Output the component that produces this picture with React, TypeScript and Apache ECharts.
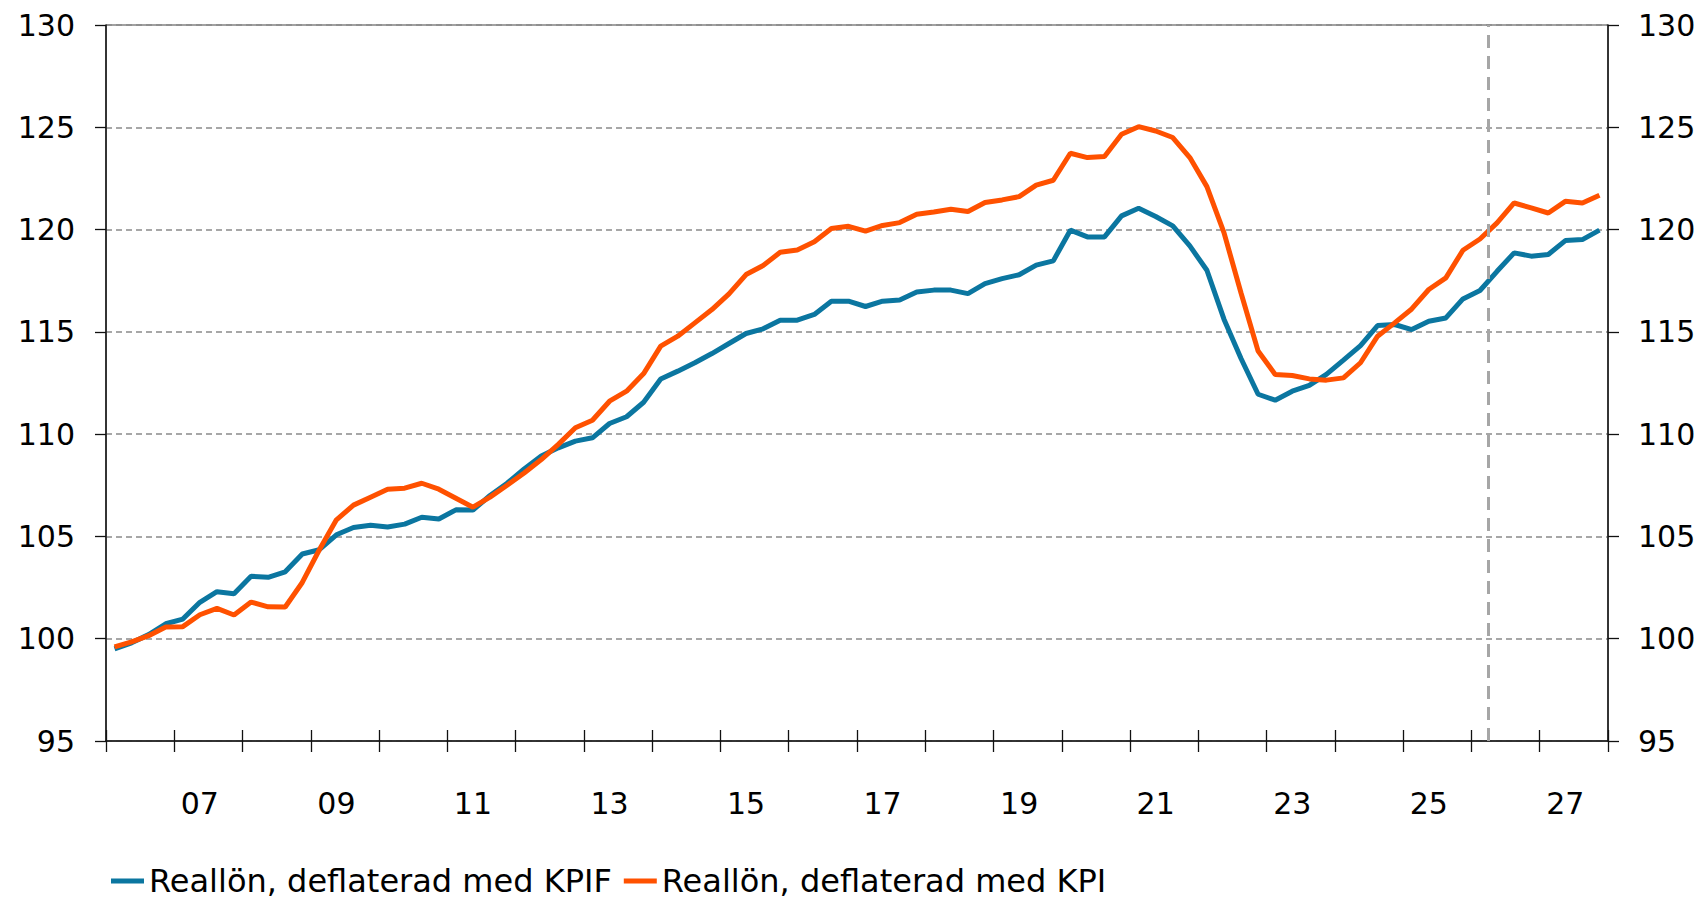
import { useEffect, useRef } from "react";
import * as echarts from "echarts";

const years = [2006, 2007, 2008, 2009, 2010, 2011, 2012, 2013, 2014, 2015, 2016, 2017, 2018, 2019, 2020, 2021, 2022, 2023, 2024, 2025, 2026, 2027];
const quarterNames = ["K1", "K2", "K3", "K4"];
const categories: string[] = years.flatMap((y) => quarterNames.map((q) => `${y}${q}`));

const seriesNames = ["Reallön, deflaterad med KPIF", "Reallön, deflaterad med KPI"];

const kpifValues = [
  99.5, 99.8, 100.2, 100.73, 100.96, 101.78, 102.3, 102.2, 103.05, 103.0,
  103.27, 104.14, 104.35, 105.08, 105.44, 105.55, 105.46, 105.6, 105.94, 105.85,
  106.3, 106.29, 107.0, 107.6, 108.3, 108.93, 109.33, 109.66, 109.82, 110.52,
  110.85, 111.56, 112.7, 113.08, 113.49, 113.94, 114.43, 114.92, 115.15, 115.57,
  115.57, 115.85, 116.5, 116.5, 116.24, 116.5, 116.56, 116.95, 117.04, 117.04,
  116.87, 117.36, 117.6, 117.79, 118.26, 118.47, 119.97, 119.64, 119.64, 120.67,
  121.04, 120.64, 120.18, 119.2, 118.01, 115.62, 113.7, 111.95, 111.66, 112.1,
  112.38, 112.92, 113.62, 114.33, 115.31, 115.36, 115.11, 115.52, 115.68, 116.61,
  117.02, 117.96, 118.86, 118.7, 118.78, 119.46, 119.51, 119.97,
];

const kpiValues = [
  99.6, 99.85, 100.15, 100.57, 100.59, 101.17, 101.48, 101.16, 101.79, 101.56,
  101.55, 102.75, 104.35, 105.81, 106.53, 106.92, 107.31, 107.36, 107.6, 107.31,
  106.87, 106.43, 106.92, 107.5, 108.1, 108.76, 109.5, 110.31, 110.68, 111.61,
  112.1, 112.96, 114.3, 114.79, 115.44, 116.09, 116.86, 117.8, 118.24, 118.89,
  119.0, 119.4, 120.05, 120.16, 119.92, 120.2, 120.34, 120.75, 120.86, 120.99,
  120.88, 121.32, 121.45, 121.61, 122.17, 122.41, 123.73, 123.52, 123.57, 124.66,
  125.03, 124.82, 124.5, 123.52, 122.1, 119.85, 116.9, 114.06, 112.92, 112.87,
  112.7, 112.64, 112.75, 113.49, 114.79, 115.44, 116.12, 117.07, 117.64, 118.99,
  119.54, 120.33, 121.3, 121.06, 120.81, 121.38, 121.3, 121.68,
];

const yMin = 95;
const yMax = 130;
const yStep = 5;
const forecastStart = "2026K2";

const FONT = "'DejaVu Sans', Verdana, sans-serif";
const BLUE = "#0b76a0";
const ORANGE = "#ff5100";
const AXIS = "#111";

export default function App() {
  const ref = useRef<HTMLDivElement>(null);

  useEffect(() => {
    document.body.style.margin = "0";
    if (!ref.current) return;
    const chart = echarts.init(ref.current, undefined, { renderer: "svg" });
    const forecastIndex = categories.indexOf(forecastStart);

    const tickLine = { color: AXIS, width: 1.3 };

    chart.setOption({
      animation: false,
      backgroundColor: "#fff",
      textStyle: { fontFamily: FONT },
      grid: {
        left: 106,
        right: 95,
        top: 25,
        bottom: 163,
        show: true,
        borderColor: "#444",
        borderWidth: 1,
      },
      legend: {
        data: seriesNames,
        left: 106,
        top: 860,
        icon: "rect",
        itemWidth: 33,
        itemHeight: 5,
        itemGap: 12,
        textStyle: { fontSize: 32, lineHeight: 32, color: "#000", fontFamily: FONT },
      },
      xAxis: [
        {
          type: "category",
          data: categories,
          boundaryGap: true,
          position: "bottom",
          axisLine: { show: true, lineStyle: { color: AXIS, width: 1.5 } },
          axisTick: { show: true, interval: 3, length: 11, lineStyle: tickLine },
          axisLabel: {
            interval: (i: number) => i % 8 === 5,
            formatter: (v: string) => v.slice(2, 4),
            fontSize: 30,
            color: "#000",
            fontFamily: FONT,
            margin: 62,
            verticalAlign: "middle",
          },
          splitLine: { show: false },
        },
        {
          type: "category",
          data: categories,
          boundaryGap: true,
          position: "bottom",
          axisLine: { show: false },
          axisTick: { show: true, inside: true, interval: 3, length: 11, lineStyle: tickLine },
          axisLabel: { show: false },
          splitLine: { show: false },
        },
        {
          type: "value",
          min: 0,
          max: categories.length,
          show: false,
        },
      ],
      yAxis: [
        {
          type: "value",
          min: yMin,
          max: yMax,
          interval: yStep,
          position: "left",
          axisLine: { show: true, lineStyle: { color: AXIS, width: 1.5 } },
          axisTick: { show: true, length: 11, lineStyle: tickLine },
          axisLabel: { fontSize: 30, color: "#000", fontFamily: FONT, margin: 31 },
          splitLine: { show: true, lineStyle: { type: [6, 4], color: "#8a8a8a", width: 1.5 } },
        },
        {
          type: "value",
          min: yMin,
          max: yMax,
          interval: yStep,
          position: "right",
          axisLine: { show: true, lineStyle: { color: AXIS, width: 1.5 } },
          axisTick: { show: true, length: 11, lineStyle: tickLine },
          axisLabel: { fontSize: 30, color: "#000", fontFamily: FONT, margin: 30 },
          splitLine: { show: false },
        },
      ],
      series: [
        {
          name: seriesNames[0],
          type: "line",
          xAxisIndex: 0,
          yAxisIndex: 0,
          data: kpifValues,
          symbol: "none",
          lineStyle: { color: BLUE, width: 5 },
          itemStyle: { color: BLUE },
        },
        {
          name: seriesNames[1],
          type: "line",
          xAxisIndex: 0,
          yAxisIndex: 0,
          data: kpiValues,
          symbol: "none",
          lineStyle: { color: ORANGE, width: 5 },
          itemStyle: { color: ORANGE },
        },
        {
          name: "prognos",
          type: "line",
          xAxisIndex: 2,
          yAxisIndex: 0,
          data: [],
          symbol: "none",
          markLine: {
            silent: true,
            symbol: "none",
            label: { show: false },
            lineStyle: { type: [13, 8], color: "#a6a6a6", width: 3 },
            data: [{ xAxis: forecastIndex }],
          },
        },
      ],
    });

    return () => chart.dispose();
  }, []);

  return <div ref={ref} style={{ width: 1703, height: 904 }} />;
}
